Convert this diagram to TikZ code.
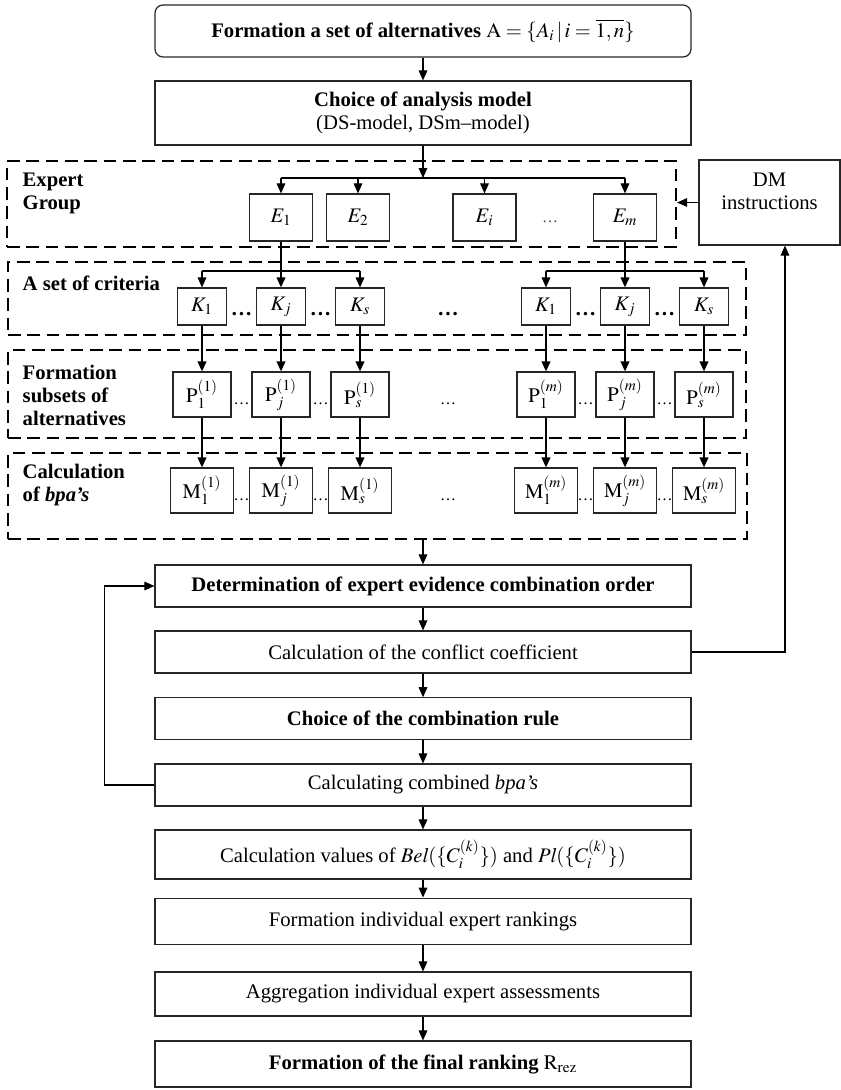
\documentclass[tikz,border=0pt]{standalone}
\usepackage{mathptmx}
\usepackage{fontspec}
\setmainfont{Liberation Serif}
\usetikzlibrary{arrows.meta}

\begin{document}
\begin{tikzpicture}[x=0.75pt,y=0.75pt,yscale=-1,xscale=1,
  font=\fontsize{15.5}{17.5}\selectfont,
  box/.style={draw=black!85, line width=0.9pt, inner sep=1pt, align=center, minimum width=402pt},
  sbox/.style={draw=black!85, line width=0.9pt, inner sep=0pt},
  ebox/.style={sbox, minimum width=47.25pt, minimum height=35.25pt},
  kbox/.style={sbox, minimum width=36.75pt, minimum height=27.75pt},
  pbox/.style={sbox, minimum width=43.5pt, minimum height=33.75pt},
  mbox/.style={sbox, minimum width=47pt, minimum height=33.75pt},
  grp/.style={draw, line width=1.7pt, dash pattern=on 9.5pt off 5pt, inner sep=0pt},
  arr/.style={-{Triangle[length=7.5pt,width=6.5pt]}, line width=0.8pt},
  thk/.style={-{Triangle[length=7.5pt,width=6.5pt]}, line width=1.3pt},
  lbl/.style={anchor=west, align=left, font=\fontsize{15.5}{17.5}\selectfont\bfseries},
  kdts/.style={font=\fontsize{16}{18}\selectfont\bfseries, inner sep=0pt},
  dts/.style={font=\fontsize{12}{14}\selectfont, inner sep=0pt}
]
\useasboundingbox (0,0) rectangle (841,1090);

%Main column
\node[box, rounded corners=6pt, minimum height=39pt] (alt) at (423,31) {\textbf{Formation a set of alternatives} $\mathrm{A}=\{A_i\,|\,i=\overline{1,n}\}$};
\node[box, minimum height=48pt] (model) at (423,113) {\textbf{Choice of analysis model}\\(DS-model, DSm--model)};

%Expert group
\node[grp, minimum width=501.75pt, minimum height=64.5pt] (grpE) at (341.5,204) {};
\node[lbl] (lblE) at (18,193.5) {Expert\\Group};
\foreach \n/\x/\t in {e1/281/E_1, e2/358/E_2, ei/484.5/E_i, em/625/E_m}
  \node[ebox] (\n) at (\x,217.5) {$\t$};
\node[dts, text=black!70] (edots) at (550,222) {\dots};

%DM instructions
\node[sbox, minimum width=105.75pt, minimum height=63.75pt] (dm) at (769.5,202.5) {};
\node[align=center] (dmtext) at (769.5,191.5) {DM\\instructions};

%A set of criteria
\node[grp, minimum width=553.5pt, minimum height=54.75pt] (grpK) at (377,298.5) {};
\node[lbl] (lblK) at (18,283) {A set of criteria};

%Formation subsets of alternatives
\node[grp, minimum width=553.5pt, minimum height=66pt] (grpP) at (377,394) {};
\node[lbl] (lblP) at (18,395.5) {Formation\\subsets of\\alternatives};

%Calculation of bpa's
\node[grp, minimum width=554.25pt, minimum height=64.5pt] (grpM) at (377.5,496) {};
\node[lbl] (lblM) at (18,485) {Calculation\\of \textit{bpa’s}};

\foreach \g/\xa/\xj/\xs in {1/202/281/360, m/546/625/704}{
  \node[kbox] (k\g1) at (\xa,306.5) {$K_1$};
  \node[kbox] (k\g j) at (\xj,306.5) {$K_j$};
  \node[kbox] (k\g s) at (\xs,306.5) {$K_s$};
  \node[kdts] (kd\g a) at ({(\xa+\xj)/2},314) {\dots};
  \node[kdts] (kd\g b) at ({(\xj+\xs)/2},314) {\dots};
  \node[pbox] (p\g1) at (\xa,394.5) {$\mathrm{P}_{1}^{(\g)}$};
  \node[pbox] (p\g j) at (\xj,394.5) {$\mathrm{P}_{j}^{(\g)}$};
  \node[pbox] (p\g s) at (\xs,394.5) {$\mathrm{P}_{s}^{(\g)}$};
  \node[dts] (pd\g a) at ({(\xa+\xj)/2},404) {\dots};
  \node[dts] (pd\g b) at ({(\xj+\xs)/2},404) {\dots};
  \node[mbox] (m\g1) at (\xa,490.5) {$\mathrm{M}_{1}^{(\g)}$};
  \node[mbox] (m\g j) at (\xj,490.5) {$\mathrm{M}_{j}^{(\g)}$};
  \node[mbox] (m\g s) at (\xs,490.5) {$\mathrm{M}_{s}^{(\g)}$};
  \node[dts] (md\g a) at ({(\xa+\xj)/2},500) {\dots};
  \node[dts] (md\g b) at ({(\xj+\xs)/2},500) {\dots};
}
\node[kdts] (kdmid) at (448,314) {\dots};
\node[dts] (pdmid) at (448,404) {\dots};
\node[dts] (mdmid) at (448,500) {\dots};

%Lower column
\node[box, minimum height=31.5pt] (det) at (423,586) {\textbf{Determination of expert evidence combination order}};
\node[box, minimum height=31.5pt] (conf) at (423,652) {Calculation of the conflict coefficient};
\node[box, minimum height=31pt] (rule) at (423,718.5) {\textbf{Choice of the combination rule}};
\node[box, minimum height=31.5pt] (comb) at (423,785) {Calculating combined \textit{bpa’s}};
\node[box, minimum height=36.75pt] (vals) at (423,854.5) {Calculation values of $\mathit{Bel}(\{C_i^{(k)}\})$ and $\mathit{Pl}(\{C_i^{(k)}\})$};
\node[box, minimum height=35pt] (rank) at (423,921.5) {Formation individual expert rankings};
\node[box, minimum height=33pt] (aggr) at (423,994) {Aggregation individual expert assessments};
\node[box, minimum height=34.5pt] (final) at (423,1064) {\textbf{Formation of the final ranking} $\mathrm{R}_{\mathrm{rez}}$};

%Connectors
\coordinate (ebus) at (0,178);
\coordinate (kbus) at (0,271);
\draw[arr] (alt) -- (model);
\draw[arr] (model.south) -- (model.south |- ebus);
\draw[line width=0.8pt] (e1.north |- ebus) -- (em.north |- ebus);
\foreach \n in {e1,e2,ei,em}
  \draw[arr] (\n.north |- ebus) -- (\n.north);
\draw[arr] (dm.west) -- (dm.west -| grpE.east);
\draw[thk] (e1.south) -- (k1j.north);
\draw[thk] (em.south) -- (kmj.north);
\foreach \g in {1,m}{
  \draw[line width=0.8pt] (k\g1.north |- kbus) -- (k\g s.north |- kbus);
  \draw[arr] (k\g1.north |- kbus) -- (k\g1.north);
  \draw[arr] (k\g s.north |- kbus) -- (k\g s.north);
  \foreach \c in {1,j,s}{
    \draw[thk] (k\g\c) -- (p\g\c);
    \draw[thk] (p\g\c) -- (m\g\c);
  }
}
\draw[arr] (grpM.south -| det) -- (det);
\draw[arr] (det) -- (conf);
\draw[arr] (conf) -- (rule);
\draw[arr] (rule) -- (comb);
\draw[arr] (comb) -- (vals);
\draw[arr] (vals) -- (rank);
\draw[arr] (rank) -- (aggr);
\draw[arr] (aggr) -- (final);
\draw[arr] (comb.west) -- ++(-50,0) |- (det.west);
\draw[arr] (conf.east) -| ([xshift=11.6pt]dm.south);

\end{tikzpicture}
\end{document}
